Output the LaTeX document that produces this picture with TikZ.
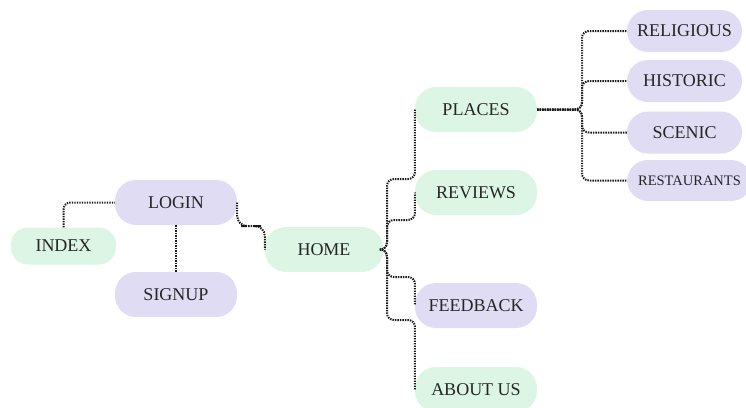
\documentclass[tikz,border=0pt]{standalone}
\usepackage{fontspec}
\setmainfont{Liberation Serif}
\definecolor{pgreen}{HTML}{DDF5E4}
\definecolor{ppurple}{HTML}{DFDCF4}
\definecolor{ptext}{HTML}{262626}
\begin{document}
\begin{tikzpicture}[x=1pt,y=-1pt,
  pill/.style={rectangle, rounded corners=21pt, draw=none, text=ptext,
    font=\fontsize{18}{18}\selectfont, inner sep=0pt},
  gpill/.style={pill, fill=pgreen},
  vpill/.style={pill, fill=ppurple},
  conn/.style={line width=2pt, dash pattern=on 1.4pt off 1.1pt, rounded corners=7pt, black!90}]
\useasboundingbox (0,0) rectangle (746,407);
% nodes
\node[gpill, minimum width=105pt, minimum height=37pt, rounded corners=17pt] (index) at (63.5,246) {INDEX};
\node[vpill, minimum width=122pt, minimum height=45pt] (login) at (176,202.5) {LOGIN};
\node[vpill, minimum width=122pt, minimum height=45pt] (signup) at (176,294.5) {SIGNUP};
\node[gpill, minimum width=118pt, minimum height=45pt] (home) at (324,249.5) {HOME};
\node[gpill, minimum width=122pt, minimum height=45pt] (places) at (476,109.5) {PLACES};
\node[gpill, minimum width=122pt, minimum height=45pt] (reviews) at (476,192.5) {REVIEWS};
\node[vpill, minimum width=122pt, minimum height=45pt] (feedback) at (476,305.5) {FEEDBACK};
\node[gpill, minimum width=122pt, minimum height=45pt] (about) at (476,389.5) {ABOUT US};
\node[vpill, minimum width=115pt, minimum height=42pt] (religious) at (684.5,31) {RELIGIOUS};
\node[vpill, minimum width=115pt, minimum height=42pt] (historic) at (684.5,81) {HISTORIC};
\node[vpill, minimum width=115pt, minimum height=42pt] (scenic) at (684.5,132.5) {SCENIC};
\node[vpill, minimum width=125pt, minimum height=41pt, font=\fontsize{14.5}{14.5}\selectfont] (restaurants) at (689.5,180.5) {RESTAURANTS};
% connectors on the left
\draw[conn] (index.north) |- (login.west);
\draw[conn, rounded corners=0pt] (login.south) -- (signup.north);
\coordinate (lhm) at (251,226);
\draw[conn, rounded corners=10pt] (login.east) |- (lhm) -| (home.west);
% home to its children
\coordinate (hx) at (387,249.5);
\draw[conn] (home.east) -- (hx) -- (387,179) -- (415,179) -- (places.west);
\draw[conn] (home.east) -- (hx) -- (387,220) -- (415,220) -- (reviews.west);
\draw[conn] (home.east) -- (hx) -- (387,277) -- (415,277) -- (feedback.west);
\draw[conn] (home.east) -- (hx) -- (387,320) -- (415,320) -- (about.west);
% places to its children
\coordinate (px) at (582,109.5);
\draw[conn] (places.east) -- (px) |- (religious.west);
\draw[conn] (places.east) -- (px) |- (historic.west);
\draw[conn] (places.east) -- (px) |- (scenic.west);
\draw[conn] (places.east) -- (px) |- (restaurants.west);
\end{tikzpicture}
\end{document}
